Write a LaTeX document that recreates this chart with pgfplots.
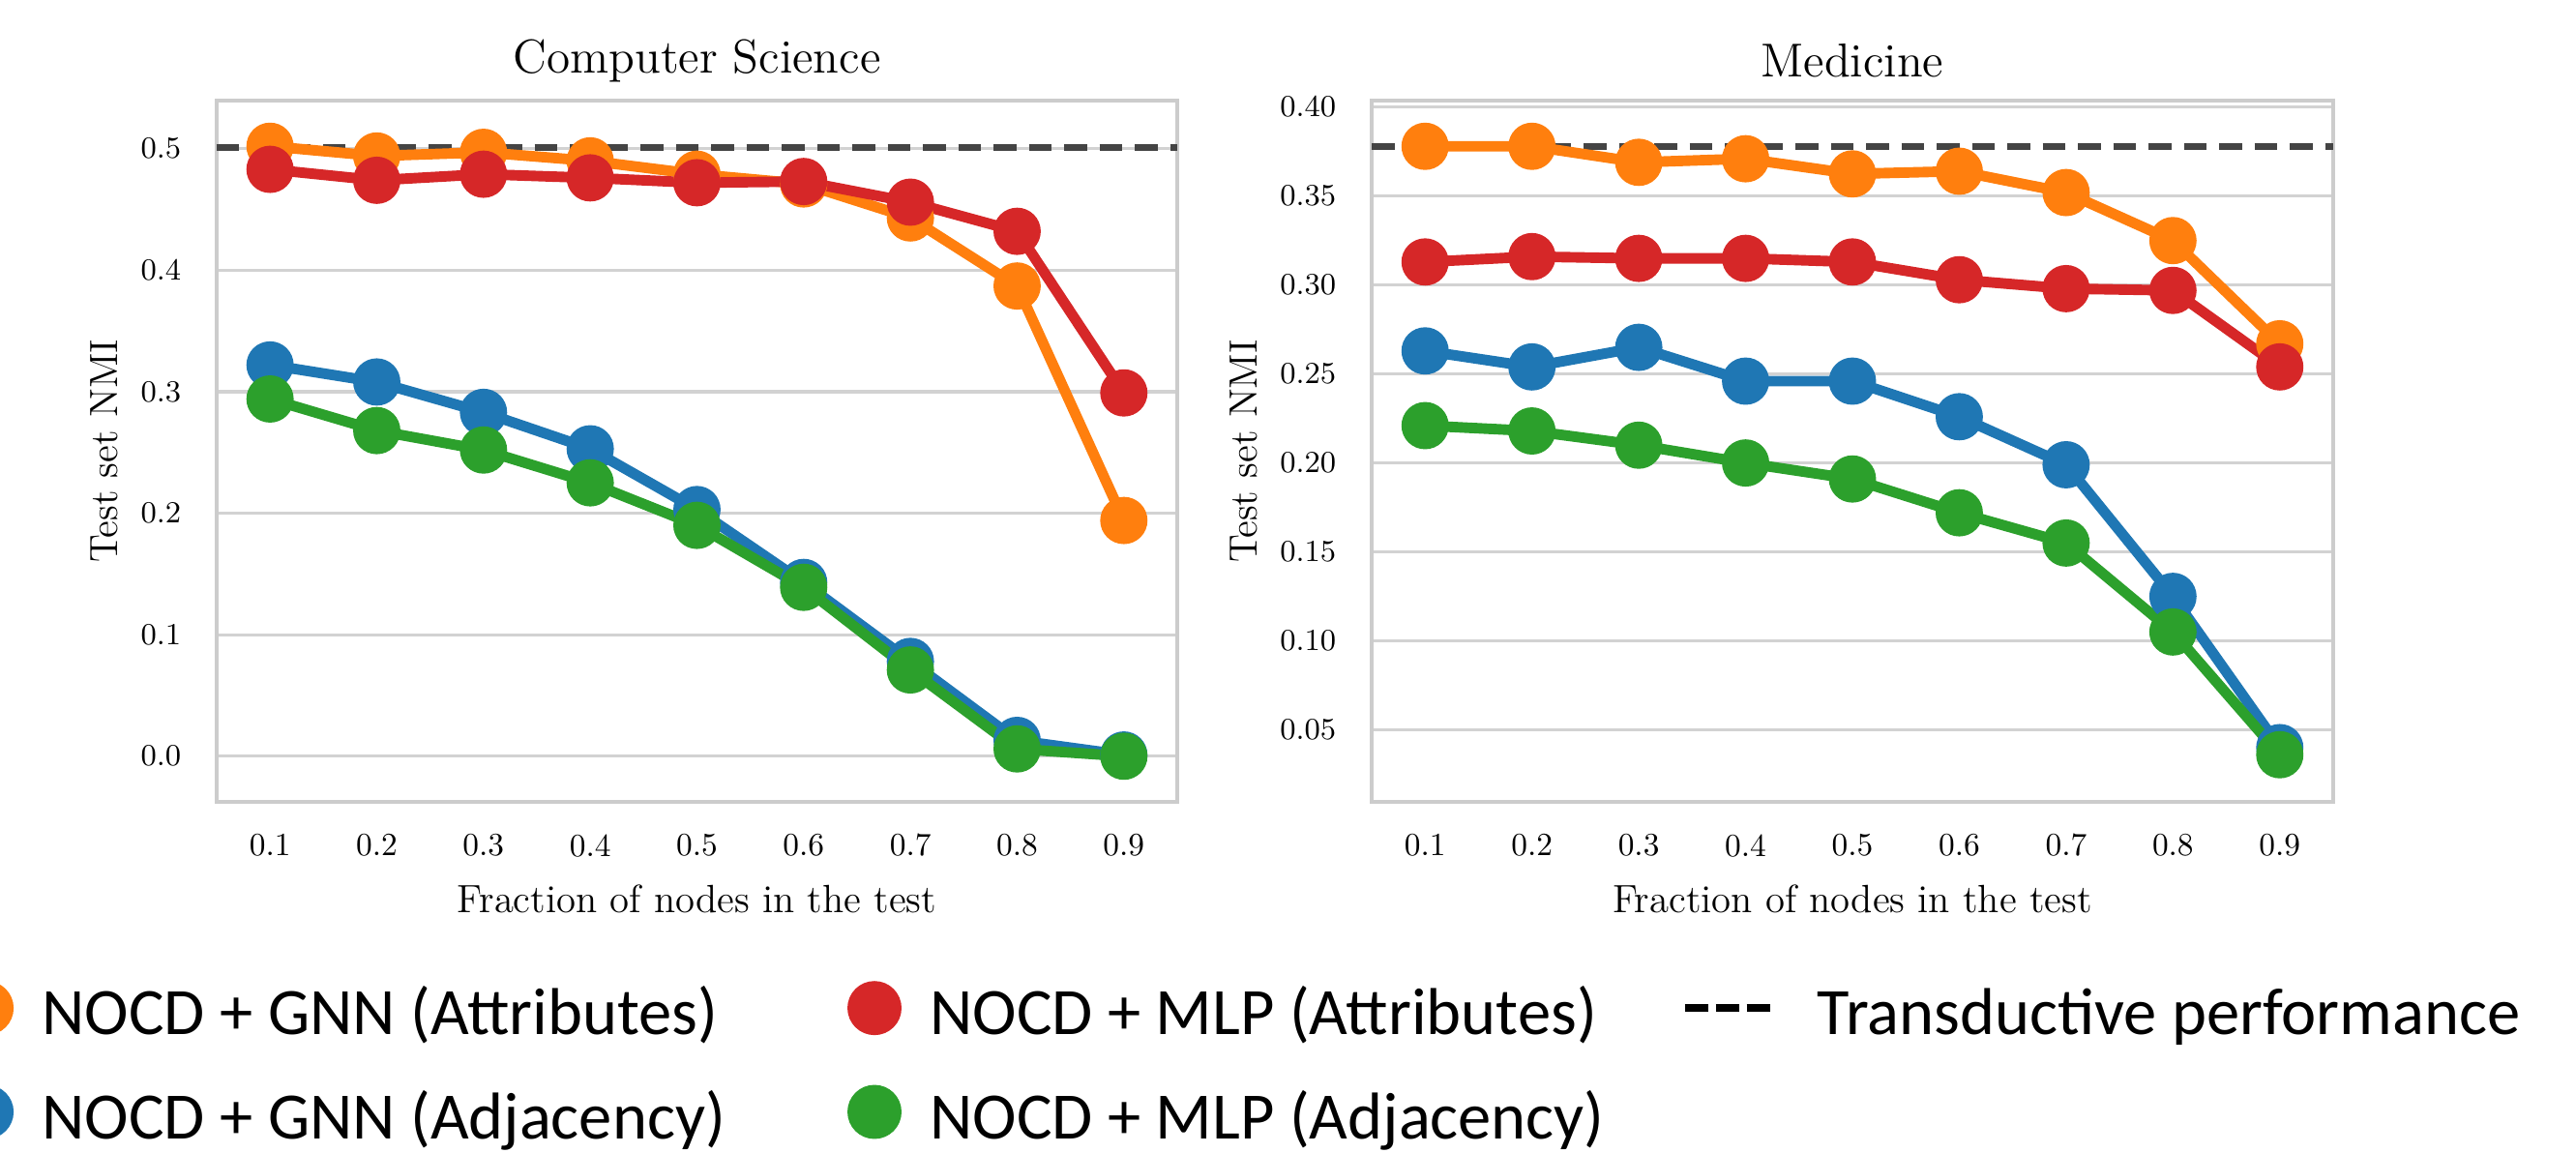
\documentclass[border=0pt]{standalone}
\usepackage{fontspec}
\usepackage{pgfplots}
\pgfplotsset{compat=1.18}
\newfontfamily\legfont{Carlito}

\definecolor{cBlue}{HTML}{1F77B4}
\definecolor{cOrange}{HTML}{FF7F0E}
\definecolor{cGreen}{HTML}{2CA02C}
\definecolor{cRed}{HTML}{D62728}
\definecolor{dashgray}{HTML}{444444}
\definecolor{framegray}{HTML}{CCCCCC}
\definecolor{gridgray}{HTML}{D2D2D2}

\pgfplotsset{
  nocd/.style={
    scale only axis, width=9.93cm, height=7.25cm,
    anchor=south west,
    xmin=-0.5, xmax=8.5,
    xtick={0,1,2,3,4,5,6,7,8},
    xticklabels={0.1,0.2,0.3,0.4,0.5,0.6,0.7,0.8,0.9},
    tick style={draw=none},
    axis line style={draw=framegray, line width=1.1pt},
    ymajorgrids,
    grid style={draw=gridgray, line width=0.9pt},
    tick label style={font=\fontsize{9.5}{11}\selectfont},
    xticklabel style={yshift=-0.21cm},
    yticklabel style={xshift=-0.245cm},
    % default title style already carries yshift=6pt; cancel it
    title style={font=\fontsize{14}{16}\selectfont, at={(axis description cs:0.5,1.057)}, anchor=center, yshift=-6pt},
    label style={font=\fontsize{11.6}{13}\selectfont},
    xlabel style={at={(axis description cs:0.5,-0.139)}, anchor=center},
    xlabel={Fraction of nodes in the test},
    ylabel={Test set NMI},
    every axis plot/.append style={line width=3.1pt, mark=*, mark size=5.4pt, mark options={draw=none}},
  },
  circleleg/.style={legend image code/.code={\fill (0cm,0.12cm) circle (0.225cm);}},
}

\begin{document}
\begin{tikzpicture}
\useasboundingbox (0,0) rectangle (26.63cm,11.91cm);

%%% LEFT: Computer Science %%%
\begin{axis}[nocd,
  at={(2.24cm,3.62cm)},
  ymin=-0.0376, ymax=0.5396,
  ytick={0,0.1,0.2,0.3,0.4,0.5},
  yticklabel style={/pgf/number format/.cd, fixed, fixed zerofill, precision=1},
  title={Computer Science},
  ylabel style={at={(axis description cs:-0.117,0.5)}, anchor=center},
  legend columns=3,
  legend cell align=left,
  legend style={
    at={(axis description cs:-0.2684,-0.2545)}, anchor=north west,
    draw=none, fill=none, inner sep=0pt,
    font=\legfont\fontsize{19.5}{22}\selectfont,
    nodes={inner sep=0pt, text height=14pt, text depth=5pt},
    row sep=0.34cm,
    /tikz/every odd column/.append style={column sep=0.295cm},
  },
]
\addplot[dashgray, line width=2pt, mark=none, dash pattern=on 0.235cm off 0.13cm, forget plot]
  coordinates {(-0.5,0.501) (8.5,0.501)};
% GNN attributes
\addplot[cOrange, forget plot] coordinates {
  (0,0.502) (1,0.494) (2,0.497) (3,0.490) (4,0.479) (5,0.471) (6,0.443) (7,0.387) (8,0.194)};
% GNN adjacency
\addplot[cBlue, forget plot] coordinates {
  (0,0.322) (1,0.308) (2,0.283) (3,0.253) (4,0.203) (5,0.143) (6,0.078) (7,0.013) (8,0.001)};
% MLP attributes
\addplot[cRed, forget plot] coordinates {
  (0,0.483) (1,0.474) (2,0.479) (3,0.476) (4,0.472) (5,0.473) (6,0.456) (7,0.432) (8,0.299)};
% MLP adjacency
\addplot[cGreen, forget plot] coordinates {
  (0,0.294) (1,0.268) (2,0.252) (3,0.225) (4,0.190) (5,0.139) (6,0.071) (7,0.006) (8,0.000)};

\addlegendimage{cOrange, circleleg}
\addlegendentry{\makebox[8.325cm][l]{NOCD + GNN (Attributes)}}
\addlegendimage{cRed, circleleg}
\addlegendentry{\makebox[7.76cm][l]{NOCD + MLP (Attributes)}}
\addlegendimage{black, legend image code/.code={%
  \draw[line width=2.3pt, dash pattern=on 0.24cm off 0.08cm] (0cm,0.12cm) -- (0.88cm,0.12cm);
  \path (1.025cm,0.12cm);}}
\addlegendentry{Transductive performance}
\addlegendimage{cBlue, circleleg}
\addlegendentry{\makebox[8.325cm][l]{NOCD + GNN (Adjacency)}}
\addlegendimage{cGreen, circleleg}
\addlegendentry{\makebox[7.76cm][l]{NOCD + MLP (Adjacency)}}
\end{axis}

%%% RIGHT: Medicine %%%
\begin{axis}[nocd,
  at={(14.18cm,3.62cm)},
  width=9.94cm,
  ymin=0.0095, ymax=0.4037,
  ytick={0.05,0.10,0.15,0.20,0.25,0.30,0.35,0.40},
  yticklabel style={/pgf/number format/.cd, fixed, fixed zerofill, precision=2},
  title={Medicine},
  ylabel style={at={(axis description cs:-0.133,0.5)}, anchor=center},
]
\addplot[dashgray, line width=2pt, mark=none, dash pattern=on 0.235cm off 0.13cm]
  coordinates {(-0.5,0.378) (8.5,0.378)};
\addplot[cOrange] coordinates {
  (0,0.378) (1,0.378) (2,0.369) (3,0.371) (4,0.3625) (5,0.364) (6,0.352) (7,0.325) (8,0.267)};
\addplot[cBlue] coordinates {
  (0,0.263) (1,0.254) (2,0.265) (3,0.246) (4,0.246) (5,0.226) (6,0.199) (7,0.125) (8,0.040)};
\addplot[cRed] coordinates {
  (0,0.313) (1,0.316) (2,0.315) (3,0.315) (4,0.313) (5,0.303) (6,0.298) (7,0.297) (8,0.254)};
\addplot[cGreen] coordinates {
  (0,0.221) (1,0.218) (2,0.210) (3,0.200) (4,0.191) (5,0.172) (6,0.155) (7,0.105) (8,0.036)};
\end{axis}
\end{tikzpicture}
\end{document}
